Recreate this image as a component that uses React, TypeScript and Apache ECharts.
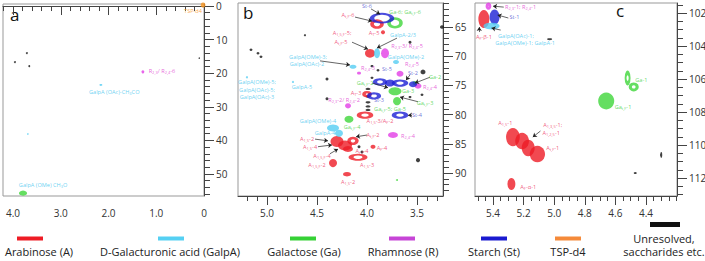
import React, { useEffect, useRef } from "react";
import * as echarts from "echarts";

// ---------- tick labels ----------
const aXTicks = [4, 3, 2, 1, 0];
const aYTicks = [0, 10, 20, 30, 40, 50];
const bXTicks = [5.0, 4.5, 4.0, 3.5];
const bYTicks = [65, 70, 75, 80, 85, 90];
const cXTicks = [5.4, 5.2, 5.0, 4.8, 4.6, 4.4];
const cYTicks = [102, 104, 106, 108, 110, 112];

// ---------- peaks: [1H ppm, 13C ppm, width 1H, width 13C, hollow] ----------
type Peak = [number, number, number, number, number];
type Lab = [number, number, string];

const tspPeaksA: Peak[] = [[0.02, -0.3, 0.1, 1.5, 0]];
const rhaPeaksA: Peak[] = [[1.28, 19.6, 0.06, 0.9, 0]];
const galpaPeaksA: Peak[] = [[2.16, 23.5, 0.06, 0.6, 0], [3.69, 38.1, 0.02, 0.5, 0]];
const galPeaksA: Peak[] = [[3.79, 55.7, 0.17, 1.5, 0]];
const unresPeaksA: Peak[] = [[3.96, 16.7, 0.04, 0.6, 0], [3.71, 14.0, 0.04, 0.6, 0], [3.66, 17.9, 0.04, 0.6, 0], [0.1, 15.5, 0.02, 0.3, 0]];

const araPeaksB: Peak[] = [
  [3.9, 64.5, 0.13, 1.7, 1], [3.84, 65.9, 0.04, 0.7, 0], [3.97, 69.5, 0.1, 1.5, 0],
  [4.0, 76.5, 0.09, 1.2, 1], [4.02, 80.1, 0.15, 1.4, 1],
  [4.3, 84.6, 0.13, 1.9, 0], [4.22, 85.3, 0.14, 1.7, 0], [4.19, 85.9, 0.1, 1.0, 0], [4.14, 84.5, 0.11, 1.5, 1],
  [3.94, 85.5, 0.05, 0.7, 0], [4.09, 87.3, 0.17, 1.4, 1], [4.34, 88.3, 0.08, 1.4, 0], [4.2, 90.2, 0.07, 0.9, 1],
];
const galpaPeaksB: Peak[] = [
  [3.9, 69.5, 0.06, 1.7, 0], [3.71, 71.0, 0.06, 0.7, 0], [4.14, 71.8, 0.07, 0.7, 0],
  [4.34, 82.3, 0.12, 1.2, 0], [4.28, 83.2, 0.08, 1.2, 0], [4.74, 74.4, 0.02, 0.4, 0], [5.2, 73.6, 0.02, 0.4, 0],
];
const galPeaksB: Peak[] = [
  [3.72, 64.3, 0.15, 2.0, 1], [3.72, 76.0, 0.13, 1.4, 0], [3.7, 77.7, 0.08, 1.4, 0],
  [4.18, 80.8, 0.09, 1.2, 0], [3.52, 74.6, 0.05, 0.7, 0], [3.7, 91.2, 0.02, 0.3, 0],
];
const rhaPeaksB: Peak[] = [
  [3.82, 69.5, 0.08, 1.7, 0], [4.08, 72.9, 0.04, 0.5, 0], [3.67, 73.0, 0.07, 1.0, 0],
  [3.49, 75.1, 0.07, 0.9, 0], [4.19, 78.5, 0.06, 0.9, 0], [3.74, 83.5, 0.1, 1.0, 0],
];
const stPeaksB: Peak[] = [
  [3.77, 74.6, 0.1, 1.2, 0], [3.54, 74.8, 0.08, 1.0, 0],
  [3.85, 63.5, 0.23, 2.0, 1], [3.87, 74.4, 0.13, 1.4, 1], [3.67, 74.6, 0.15, 1.4, 1],
  [3.93, 76.8, 0.13, 1.4, 1], [3.67, 80.1, 0.15, 1.4, 1],
];
const unresPeaksB: Peak[] = [
  [3.25, 65.0, 0.04, 0.6, 0], [3.57, 67.6, 0.03, 0.5, 0], [4.62, 66.4, 0.02, 0.4, 0], [5.16, 68.9, 0.03, 0.4, 0],
  [5.09, 69.5, 0.03, 0.4, 0], [5.06, 70.1, 0.03, 0.4, 0], [4.4, 73.9, 0.03, 0.5, 0], [4.4, 77.3, 0.03, 0.5, 0],
  [3.44, 72.7, 0.05, 0.8, 0], [3.99, 75.6, 0.05, 0.4, 0], [3.99, 76.9, 0.05, 0.4, 0], [3.99, 77.9, 0.05, 0.4, 0],
  [3.99, 78.6, 0.05, 0.4, 0], [3.99, 79.2, 0.05, 0.4, 0], [4.08, 85.5, 0.03, 0.5, 0], [4.05, 86.4, 0.03, 0.5, 0],
  [3.49, 87.8, 0.04, 0.7, 0], [3.95, 71.7, 0.03, 0.4, 0], [3.89, 72.4, 0.03, 0.4, 0], [3.95, 73.7, 0.03, 0.4, 0],
  [3.57, 77.0, 0.03, 0.4, 0], [3.45, 76.6, 0.03, 0.4, 0],
];

const araPeaksC: Peak[] = [
  [5.46, 102.36, 0.072, 1.1, 0],
  [5.27, 109.52, 0.09, 1.1, 0], [5.21, 109.76, 0.09, 1.0, 0], [5.17, 110.18, 0.085, 1.0, 0], [5.11, 110.55, 0.1, 1.0, 0],
  [5.28, 112.36, 0.052, 0.73, 0],
];
const galpaPeaksC: Peak[] = [[5.41, 102.79, 0.105, 0.42, 0]];
const galPeaksC: Peak[] = [[4.66, 107.33, 0.105, 1.03, 0], [4.52, 105.94, 0.046, 0.8, 1], [4.48, 106.48, 0.065, 0.55, 1]];
const rhaPeaksC: Peak[] = [[5.43, 101.58, 0.04, 0.42, 1]];
const stPeaksC: Peak[] = [[5.39, 102.24, 0.065, 0.9, 0]];
const unresPeaksC: Peak[] = [[5.03, 103.58, 0.033, 0.12, 0], [4.47, 111.7, 0.02, 0.12, 0], [4.3, 110.6, 0.013, 0.36, 0]];

// ---------- peak labels: [1H, 13C, text] ----------
const tspLabelsA: Lab[] = [[0.23, 1.5, "TSP-d4"]];
const rhaLabelsA: Lab[] = [[0.88, 19.3, "R_{2,3}/ R_{2,4}-6"]];
const galpaLabelsA: Lab[] = [[1.88, 25.6, "GalpA (OAc)-CH_{3}CO"], [3.37, 53.3, "GalpA (OMe) CH_{3}O"]];

const araLabelsB: Lab[] = [
  [4.19, 62.9, "A_{t,F}-6"], [3.93, 66.0, "A_{T}-5"], [4.25, 66.0, "A_{1,5,F}-5;"], [4.26, 67.6, "A_{t,F}-5"],
  [4.11, 76.3, "A_{T}-3"], [3.87, 81.1, "A_{1,5}-3/A_{F}-2"], [3.94, 83.5, "A_{t,F}-2"], [4.6, 84.2, "A_{1,5}-2"],
  [4.57, 85.5, "A_{1,5}-4"], [3.85, 85.7, "A_{F}-4"], [4.05, 86.3, "A_{t,F}-4"], [4.45, 87.1, "A_{1,5,F}-4"],
  [4.0, 88.6, "A_{1,5}-3"], [4.5, 88.6, "A_{1,5,F}-2"], [4.19, 91.5, "A_{1,5}-2"],
];
const galpaLabelsB: Lab[] = [
  [3.64, 66.4, "GalpA-2/3"], [3.61, 70.1, "GalpA(OMe)-2"], [4.59, 70.1, "GalpA(OMe)-3;"], [4.6, 71.3, "GalpA(OAc)-2"],
  [4.65, 75.3, "GalpA-5"], [5.1, 74.4, "GalpA(OMe)-5;"], [5.1, 75.8, "GalpA(OAc)-5;"], [5.1, 77.0, "GalpA(OAc)-3"],
  [4.49, 81.1, "GalpA(OMe)-4"], [4.42, 83.2, "GalpA-4"],
];
const galLabelsB: Lab[] = [
  [3.62, 62.4, "Ga-6; Ga_{t,F}-6"], [3.32, 73.6, "Ga-2"], [4.02, 74.6, "Ga_{t,F}-2"], [3.59, 76.0, "Ga-3"],
  [3.42, 78.0, "Ga_{t,F}-3"], [3.77, 79.0, "Ga_{t,F}-5; Ga-5"], [4.15, 82.1, "Ga_{t,F}-4"],
];
const rhaLabelsB: Lab[] = [
  [3.6, 68.3, "R_{2,3}-3/ R_{2,4}-5"], [3.99, 72.0, "R_{2,4}-3"], [3.55, 71.3, "R_{2,4}-5"], [3.37, 75.3, "R_{2,4}-4"],
  [4.23, 77.5, "R_{2,3}-2/ R_{2,4}-2"], [3.59, 83.7, "R_{2,4}-4"],
];
const stLabelsB: Lab[] = [
  [4.0, 61.4, "St-6"], [3.8, 72.2, "St-5"], [3.54, 72.9, "St-2"], [3.88, 77.5, "St-3"], [3.5, 80.1, "St-4"],
];

const araLabelsC: Lab[] = [
  [5.46, 103.45, "A_{F}-β-1"], [5.32, 108.67, "A_{1,5}-1"], [5.01, 108.79, "A_{1,3,5}-1;"], [5.02, 109.27, "A_{1,2,5}-1"],
  [5.01, 110.18, "A_{t,F}-1"], [5.17, 112.55, "A_{F}-α-1"],
];
const galpaLabelsC: Lab[] = [[5.25, 103.39, "GalpA(OAc)-1;"], [5.19, 103.82, "GalpA(OMe)-1; GalpA-1"]];
const galLabelsC: Lab[] = [[4.43, 106.06, "Ga-1"], [4.55, 107.7, "Ga_{t,F}-1"]];
const rhaLabelsC: Lab[] = [[5.22, 101.64, "R_{2,3}-1; R_{2,4}-1"]];
const stLabelsC: Lab[] = [[5.26, 102.24, "St-1"]];

// ---------- arrows: [x1, y1, x2, y2] ----------
const arrowsB: number[][] = [
  [4.12, 63.3, 3.95, 64.0], [4.15, 67.6, 3.99, 68.8], [3.7, 66.9, 3.9, 68.6], [4.47, 70.8, 4.17, 71.5],
  [3.96, 61.9, 3.87, 62.8], [3.57, 73.2, 3.61, 74.1], [3.37, 73.6, 3.52, 74.6], [3.95, 74.6, 3.79, 75.4],
  [3.49, 77.8, 3.67, 77.0], [3.55, 80.1, 3.59, 80.1], [4.0, 83.5, 4.11, 83.8], [4.52, 84.2, 4.39, 84.5],
  [4.49, 85.5, 4.35, 85.2], [4.37, 86.7, 4.29, 85.9],
];
const arrowsC: number[][] = [
  [5.33, 101.64, 5.4, 101.58], [5.3, 102.3, 5.37, 102.12], [5.49, 103.15, 5.49, 102.85],
  [5.35, 103.03, 5.41, 102.91], [5.09, 109.15, 5.14, 109.52],
];

const legendNames = ["Arabinose (A)", "D-Galacturonic acid (GalpA)", "Galactose (Ga)", "Rhamnose (R)", "Starch (St)", "TSP-d4", "Unresolved,\nsaccharides etc."];

// ---------- styling / layout ----------
const C = {
  ara: "#ee1c25", galpa: "#55cdf2", gal: "#3ed63a", rha: "#e23de6", st: "#1c1fd4", tsp: "#f7941d", un: "#111111",
};
const T = {
  ara: "#ec2f5c", galpa: "#3fc5ee", gal: "#3ccf3c", rha: "#e03ad0", st: "#4b4fd0", tsp: "#f7941d",
};
const legendColors = ["#ee1c25", "#55d0f3", "#35d135", "#c645d6", "#1a1ad0", "#f58a3a", "#111"];
const legendSwatchX = [17, 158, 290, 389, 481, 555, 650];
const legendTextX = [39, 170, 304, 403, 494, 568, 664];

const PANELS = [
  { left: 3, top: 4, width: 201, height: 192, x: [0, 4.21], y: [-0.6, 56.55], xt: aXTicks, yt: aYTicks, xm: 0.2, ym: 2, fx: (v: number) => (v === 0 ? "0" : v.toFixed(1)) },
  { left: 238, top: 3, width: 205, height: 193, x: [3.24, 5.29], y: [60.89, 93.94], xt: bXTicks, yt: bYTicks, xm: 0.1, ym: 1, fx: (v: number) => v.toFixed(1) },
  { left: 475, top: 3, width: 202, height: 193, x: [4.197, 5.518], y: [101.39, 113.09], xt: cXTicks, yt: cYTicks, xm: 0.05, ym: 0.5, fx: (v: number) => v.toFixed(1) },
];

function steps(lo: number, hi: number, step: number): number[] {
  const out: number[] = [];
  const start = Math.ceil(lo / step - 1e-9);
  const end = Math.floor(hi / step + 1e-9);
  for (let i = start; i <= end; i++) out.push(+(i * step).toFixed(4));
  return out;
}

const FONT = "'Open Sans', 'DejaVu Sans', sans-serif";

function toRich(s: string): string {
  return s.replace(/_\{([^}]*)\}/g, "{s|$1}");
}

function peakSeries(pi: number, data: Peak[], color: string) {
  const p = PANELS[pi];
  const sx = p.width / (p.x[1] - p.x[0]);
  const sy = p.height / (p.y[1] - p.y[0]);
  return {
    type: "scatter", xAxisIndex: pi * 2, yAxisIndex: pi * 2, silent: true, z: 3, symbol: "circle",
    data: data.map(([x, y, w, h, hollow]) => {
      const pw = Math.max(1.5, w * sx), ph = Math.max(1.5, h * sy);
      return hollow
        ? { value: [x, y], symbolSize: [Math.max(2, pw - 3), Math.max(2, ph - 3)], itemStyle: { color: "rgba(255,255,255,0)", borderColor: color, borderWidth: 3 } }
        : { value: [x, y], symbolSize: [pw, ph], itemStyle: { color } };
    }),
  };
}

function labelSeries(pi: number, data: Lab[], color: string, fs = 5.6) {
  return {
    type: "scatter", xAxisIndex: pi * 2, yAxisIndex: pi * 2, silent: true, z: 6, symbolSize: 1,
    itemStyle: { color: "rgba(0,0,0,0)" },
    label: {
      show: true, position: "inside", color, fontSize: fs, fontFamily: FONT, lineHeight: 7,
      formatter: (p: any) => toRich(p.name),
      rich: { s: { fontSize: fs * 0.72, color, fontFamily: FONT, verticalAlign: "bottom", lineHeight: 7, padding: [2, 0, 0, 0] } },
    },
    data: data.map(([x, y, t]) => ({ value: [x, y], name: t })),
  };
}

function arrowSeries(pi: number, data: number[][]) {
  return {
    type: "lines", coordinateSystem: "cartesian2d", xAxisIndex: pi * 2, yAxisIndex: pi * 2, silent: true, z: 5,
    symbol: ["none", "arrow"], symbolSize: 4,
    lineStyle: { color: "#222", width: 0.7, opacity: 1 },
    data: data.map(([x1, y1, x2, y2]) => ({ coords: [[x1, y1], [x2, y2]] })),
  };
}

function buildOption() {
  const grid: any[] = [];
  const xAxis: any[] = [];
  const yAxis: any[] = [];
  PANELS.forEach((p, i) => {
    grid.push({ left: p.left, top: p.top, width: p.width, height: p.height, show: true, borderColor: "#999", borderWidth: 1, backgroundColor: "transparent", containLabel: false, outerBoundsMode: "none" });
    const common = { type: "value", gridIndex: i, inverse: true, splitLine: { show: false } };
    xAxis.push({
      ...common, position: "bottom", min: p.x[0], max: p.x[1],
      axisLine: { show: true, lineStyle: { color: "#444", width: 1 } },
      axisTick: { show: true, length: 5, lineStyle: { color: "#444" }, customValues: steps(p.x[0], p.x[1], p.xm) },
      axisLabel: { show: false },
    });
    xAxis.push({
      ...common, position: "bottom", min: p.x[0], max: p.x[1],
      axisLine: { show: false },
      axisTick: { show: true, length: 9, lineStyle: { color: "#444" }, customValues: p.xt },
      axisLabel: { show: true, customValues: p.xt, margin: 12, fontSize: 10, color: "#333", fontFamily: FONT, formatter: p.fx },
    });
    yAxis.push({
      ...common, position: "right", min: p.y[0], max: p.y[1],
      axisLine: { show: true, lineStyle: { color: "#444", width: 1 } },
      axisTick: { show: true, length: 6, lineStyle: { color: "#444" }, customValues: steps(p.y[0], p.y[1], p.ym) },
      axisLabel: { show: false },
    });
    yAxis.push({
      ...common, position: "right", min: p.y[0], max: p.y[1],
      axisLine: { show: false },
      axisTick: { show: true, length: 10, lineStyle: { color: "#444" }, customValues: p.yt },
      axisLabel: { show: true, customValues: p.yt, margin: 12, fontSize: 10, lineHeight: 10, color: "#333", fontFamily: FONT },
    });
  });

  const series: any[] = [
    // panel a
    peakSeries(0, unresPeaksA, C.un), peakSeries(0, galpaPeaksA, C.galpa), peakSeries(0, galPeaksA, C.gal),
    peakSeries(0, rhaPeaksA, C.rha), peakSeries(0, tspPeaksA, C.tsp),
    labelSeries(0, tspLabelsA, T.tsp), labelSeries(0, rhaLabelsA, T.rha), labelSeries(0, galpaLabelsA, T.galpa),
    // panel b
    peakSeries(1, unresPeaksB, C.un), peakSeries(1, araPeaksB, C.ara), peakSeries(1, galpaPeaksB, C.galpa),
    peakSeries(1, galPeaksB, C.gal), peakSeries(1, rhaPeaksB, C.rha), peakSeries(1, stPeaksB, C.st),
    arrowSeries(1, arrowsB),
    labelSeries(1, araLabelsB, T.ara), labelSeries(1, galpaLabelsB, T.galpa), labelSeries(1, galLabelsB, T.gal),
    labelSeries(1, rhaLabelsB, T.rha), labelSeries(1, stLabelsB, T.st),
    // panel c
    peakSeries(2, unresPeaksC, C.un), peakSeries(2, araPeaksC, C.ara), peakSeries(2, stPeaksC, C.st),
    peakSeries(2, galpaPeaksC, C.galpa), peakSeries(2, galPeaksC, C.gal), peakSeries(2, rhaPeaksC, C.rha),
    arrowSeries(2, arrowsC),
    labelSeries(2, araLabelsC, T.ara), labelSeries(2, galpaLabelsC, T.galpa), labelSeries(2, galLabelsC, T.gal),
    labelSeries(2, rhaLabelsC, T.rha), labelSeries(2, stLabelsC, T.st),
  ];

  const graphic: any[] = [
    { type: "text", left: 10, top: 6, style: { text: "a", fontSize: 17, fontFamily: FONT, fill: "#111" } },
    { type: "text", left: 243, top: 4, style: { text: "b", fontSize: 17, fontFamily: FONT, fill: "#111" } },
    { type: "text", left: 616, top: 2, style: { text: "c", fontSize: 17, fontFamily: FONT, fill: "#111" } },
  ];
  legendNames.forEach((name, i) => {
    const last = i === legendNames.length - 1;
    graphic.push({
      type: "rect", shape: { x: legendSwatchX[i], y: last ? 222 : 236.5, width: last ? 30 : 26, height: last ? 5 : 4 },
      style: { fill: legendColors[i] }, silent: true,
    });
    const lines = name.split("\n");
    lines.forEach((ln, k) => {
      graphic.push({
        type: "text", x: legendTextX[i], y: 251 - (lines.length - 1 - k) * 12.5, silent: true,
        style: { text: ln, fontSize: 11, lineHeight: 10, fontFamily: FONT, fill: "#222", align: "center", verticalAlign: "middle" },
      });
    });
  });

  return { animation: false, backgroundColor: "#fff", grid, xAxis, yAxis, series, graphic };
}

export default function App() {
  const ref = useRef<HTMLDivElement>(null);
  useEffect(() => {
    document.body.style.margin = "0";
    if (!ref.current) return;
    const chart = echarts.init(ref.current, null, { renderer: "svg" });
    chart.setOption(buildOption() as any);
    return () => chart.dispose();
  }, []);
  return <div ref={ref} style={{ width: 705, height: 261 }} />;
}
